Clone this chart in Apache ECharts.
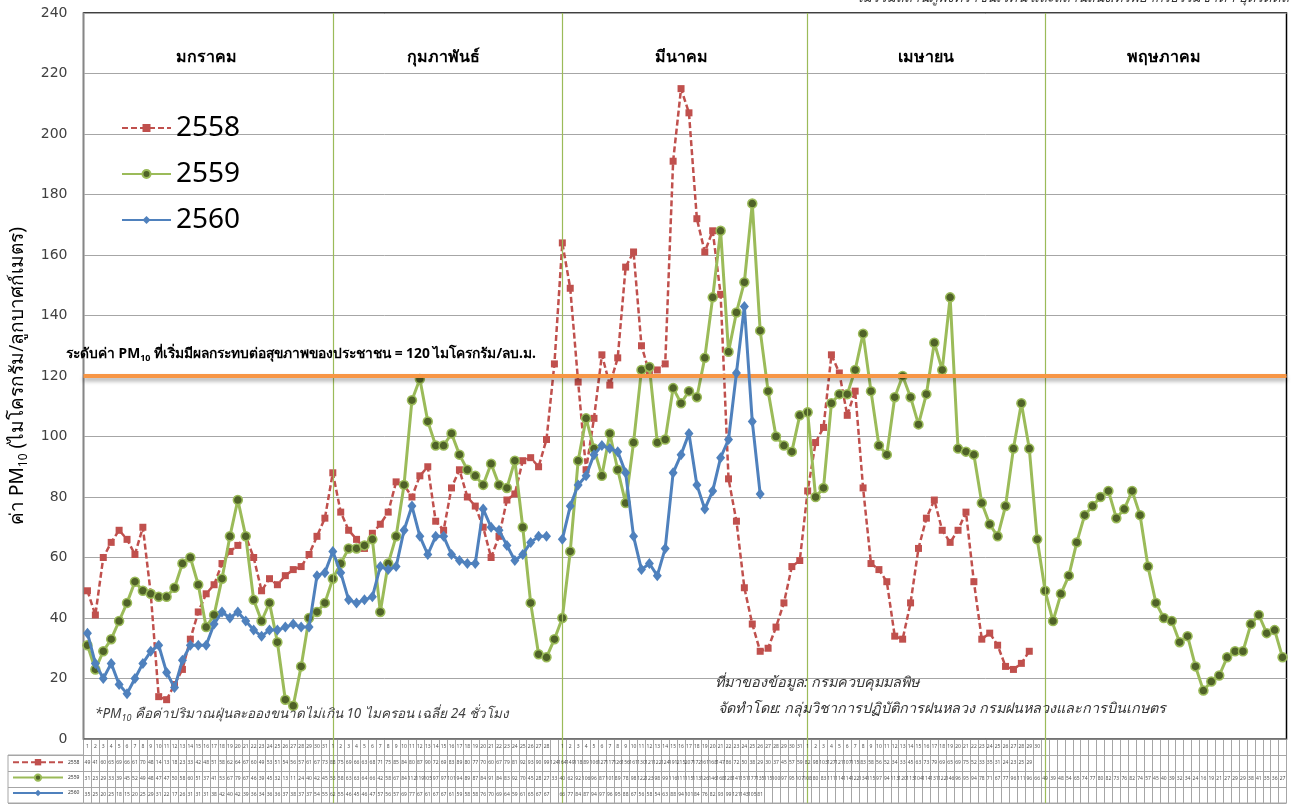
<!DOCTYPE html>
<html><head><meta charset="utf-8">
<script src="https://cdn.jsdelivr.net/npm/echarts@6/dist/echarts.min.js"></script>
<style>html,body{margin:0;padding:0;background:#fff;}#c{width:1293px;height:805px;}</style>
</head><body><div id="c"></div>
<script>
// ---------- data ----------
const dayLabels = [
 '1','2','3','4','5','6','7','8','9','10','11','12','13','14','15','16','17','18','19','20','21','22','23','24','25','26','27','28','29','30','31',
 '1','2','3','4','5','6','7','8','9','10','11','12','13','14','15','16','17','18','19','20','21','22','23','24','25','26','27','28','',
 '1','2','3','4','5','6','7','8','9','10','11','12','13','14','15','16','17','18','19','20','21','22','23','24','25','26','27','28','29','30','31',
 '1','2','3','4','5','6','7','8','9','10','11','12','13','14','15','16','17','18','19','20','21','22','23','24','25','26','27','28','29','30',
 '','','','','','','','','','','','','','','','','','','','','','','','','','','','','','',''
];
const monthNames = ['มกราคม','กุมภาพันธ์','มีนาคม','เมษายน','พฤษภาคม'];
const monthStart = [0,31,60,91,121,152];
const seriesNames = ['2558','2559','2560'];
const s2558 = [49,41,60,65,69,66,61,70,48,14,13,18,23,33,42,48,51,58,62,64,67,60,49,53,51,54,56,57,61,67,73,
 88,75,69,66,63,68,71,75,85,84,80,87,90,72,69,83,89,80,77,70,60,67,79,81,92,93,90,99,124,
 164,149,118,89,106,127,117,126,156,161,130,121,122,124,191,215,207,172,161,168,147,86,72,50,38,29,30,37,45,57,59,
 82,98,103,127,121,107,115,83,58,56,52,34,33,45,63,73,79,69,65,69,75,52,33,35,31,24,23,25,29];
const s2559 = [31,23,29,33,39,45,52,49,48,47,47,50,58,60,51,37,41,53,67,79,67,46,39,45,32,13,11,24,40,42,45,
 53,58,63,63,64,66,42,58,67,84,112,119,105,97,97,101,94,89,87,84,91,84,83,92,70,45,28,27,33,
 40,62,92,106,96,87,101,89,78,98,122,123,98,99,116,111,115,113,126,146,168,128,141,151,177,135,115,100,97,95,107,
 108,80,83,111,114,114,122,134,115,97,94,113,120,113,104,114,131,122,146,96,95,94,78,71,67,77,96,111,96,66,
 49,39,48,54,65,74,77,80,82,73,76,82,74,57,45,40,39,32,34,24,16,19,21,27,29,29,38,41,35,36,27];
const s2560 = [35,25,20,25,18,15,20,25,29,31,22,17,26,31,31,31,38,42,40,42,39,36,34,36,36,37,38,37,37,54,55,
 62,55,46,45,46,47,57,56,57,69,77,67,61,67,67,61,59,58,58,76,70,69,64,59,61,65,67,67,null,
 66,77,84,87,94,97,96,95,88,67,56,58,54,63,88,94,101,84,76,82,93,99,121,143,105,81];

// ---------- derived ----------
const N = dayLabels.length;
const idx = dayLabels.map((d,i)=>i);
const pad = a => idx.map(i => (a[i] === undefined ? null : a[i]));
const d2558 = pad(s2558), d2559 = pad(s2559), d2560 = pad(s2560);
const topCats = idx.map(()=> '');
for (let m=0;m<monthNames.length;m++) topCats[Math.floor((monthStart[m]+monthStart[m+1])/2)] = monthNames[m];
const tableCells = [];
idx.forEach(i=>{
  if (dayLabels[i] !== '') tableCells.push([i,0,dayLabels[i]]);
  [d2558,d2559,d2560].forEach((a,r)=>{ if (a[i]!==null) tableCells.push([i,r+1,String(a[i])]); });
});

const FF = "'Noto Sans','DejaVu Sans',sans-serif";
const RED='#C0504D', GREEN='#9BBB59', GREEN_D='#4F6228', BLUE='#4F81BD';
const tblLine = {color:'#a6a6a6', width:1};

const chart = echarts.init(document.getElementById('c'), null, {renderer:'canvas'});
chart.setOption({
  animation:false,
  backgroundColor:'#fff',
  textStyle:{fontFamily:FF},
  grid:[
    {left:83.5, right:6.5, top:13, height:726, show:true, borderColor:'#000', borderWidth:1.5, outerBoundsMode:'none', containLabel:false},
    {left:83.5, right:6.5, top:13, height:790, show:false, outerBoundsMode:'none', containLabel:false},
    {left:83.5, right:6.5, top:739, height:64, show:true, borderColor:'#a6a6a6', borderWidth:1, outerBoundsMode:'none', containLabel:false},
    {left:8, width:75.5, top:755, height:48, show:true, borderColor:'#a6a6a6', borderWidth:1, outerBoundsMode:'none', containLabel:false}
  ],
  xAxis:[
    {gridIndex:0, type:'category', data:idx, boundaryGap:true, axisLine:{show:true, lineStyle:{color:'#868686'}},
     axisTick:{show:false}, axisLabel:{show:false}, splitLine:{show:false}},
    {gridIndex:1, type:'category', data:topCats, boundaryGap:true, position:'top',
     axisLine:{show:false}, axisTick:{show:false}, splitLine:{show:false},
     axisLabel:{interval:0, inside:true, margin:44, fontSize:16, fontWeight:'bold', color:'#000', fontFamily:FF, verticalAlign:'middle'}},
    {gridIndex:2, type:'category', data:idx, boundaryGap:true, axisLine:{show:false}, axisTick:{show:false},
     axisLabel:{show:false}, splitLine:{show:true, interval:0, lineStyle:tblLine}},
    {gridIndex:3, type:'value', show:false}
  ],
  yAxis:[
    {gridIndex:0, type:'value', min:0, max:240, interval:20,
     axisLine:{show:true, lineStyle:{color:'#868686'}}, axisTick:{show:false},
     axisLabel:{fontSize:14, color:'#404040', margin:16, fontFamily:"'DejaVu Sans',sans-serif"},
     splitLine:{show:true, lineStyle:{color:'#a6a6a6', width:1}},
     name:'{a|ค่า PM}{s|10}{a| (ไมโครกรัม/ลูกบาศก์เมตร)}', nameLocation:'middle', nameRotate:90, nameGap:54,
     nameTextStyle:{rich:{a:{fontSize:19, color:'#000', fontFamily:FF}, s:{fontSize:12, color:'#000', fontFamily:FF, verticalAlign:'bottom', padding:[12,0,0,0]}}}},
    {gridIndex:1, type:'value', min:0, max:1, show:false},
    {gridIndex:2, type:'category', data:['d','2558','2559','2560'], inverse:true,
     axisLine:{show:false}, axisTick:{show:false}, axisLabel:{show:false}, splitLine:{show:true, interval:0, lineStyle:tblLine}},
    {gridIndex:3, type:'category', data:seriesNames, inverse:true,
     axisLine:{show:false}, axisTick:{show:false}, axisLabel:{show:false}, splitLine:{show:true, interval:0, lineStyle:tblLine}}
  ],
  legend:[
    {data:seriesNames, orient:'vertical', left:121, top:113, itemWidth:49, itemHeight:10, itemGap:16, padding:0,
     textStyle:{fontSize:28, color:'#000', fontFamily:FF, lineHeight:30}, selectedMode:false},
    {data:seriesNames, orient:'vertical', left:12, top:759, itemWidth:50, itemHeight:8, itemGap:8, padding:0, height:44,
     textStyle:{fontSize:5, color:'#333', fontFamily:FF}, selectedMode:false}
  ],
  series:[
    {type:'line', xAxisIndex:1, yAxisIndex:1, data:idx.map(()=>null), z:1, silent:true, symbol:'none',
     markLine:{silent:true, symbol:['none','none'], label:{show:false},
       lineStyle:{color:GREEN, width:1.2, type:'solid'},
       data:monthStart.slice(1,monthStart.length-1).map(k=>({xAxis:k}))}},
    {type:'line', xAxisIndex:0, yAxisIndex:0, data:idx.map(()=>null), z:1, silent:true, symbol:'none',
     markLine:{silent:true, symbol:['none','none'], label:{show:false},
       lineStyle:{color:'#F79646', width:4, type:'solid', shadowColor:'rgba(0,0,0,0.35)', shadowBlur:4, shadowOffsetY:3},
       data:[{yAxis:120}]}},
    {name:'2558', type:'line', xAxisIndex:0, yAxisIndex:0, data:d2558, z:3,
     symbol:'rect', symbolSize:7, showAllSymbol:true,
     lineStyle:{color:RED, width:2.5, type:[6,3]}, itemStyle:{color:RED}},
    {name:'2559', type:'line', xAxisIndex:0, yAxisIndex:0, data:d2559, z:4,
     symbol:'circle', symbolSize:9, showAllSymbol:true,
     lineStyle:{color:GREEN, width:3}, itemStyle:{color:GREEN_D, borderColor:GREEN, borderWidth:1.5}},
    {name:'2560', type:'line', xAxisIndex:0, yAxisIndex:0, data:d2560, z:5,
     symbol:'diamond', symbolSize:[9,11], showAllSymbol:true,
     lineStyle:{color:BLUE, width:3}, itemStyle:{color:BLUE}},
    {type:'scatter', xAxisIndex:2, yAxisIndex:2, data:tableCells, symbolSize:0, silent:true, z:6,
     label:{show:true, position:'inside', fontSize:5, color:'#222', fontFamily:FF, formatter:p=>p.data[2]}}
  ],
  graphic:[
    {type:'text', left:66, top:347, z:10, style:{text:'{a|ระดับค่า PM}{s|10}{a| ที่เริ่มมีผลกระทบต่อสุขภาพของประชาชน = 120 ไมโครกรัม/ลบ.ม.}',
      rich:{a:{fontSize:13.8, fontWeight:'bold', fill:'#000', fontFamily:FF}, s:{fontSize:9, fontWeight:'bold', fill:'#000', fontFamily:FF, padding:[8,0,0,0]}}}},
    {type:'text', left:95, top:707, z:10, style:{text:'{a|*PM}{s|10}{a| คือค่าปริมาณฝุ่นละอองขนาดไม่เกิน 10 ไมครอน เฉลี่ย 24 ชั่วโมง}',
      rich:{a:{fontSize:13.5, fontStyle:'italic', fill:'#404040', fontFamily:FF}, s:{fontSize:9, fontStyle:'italic', fill:'#404040', fontFamily:FF, padding:[8,0,0,0]}}}},
    {type:'text', left:715, top:676, z:10, style:{text:'ที่มาของข้อมูล: กรมควบคุมมลพิษ', fontSize:14.4, fontStyle:'italic', fill:'#333', fontFamily:FF}},
    {type:'text', left:718, top:702, z:10, style:{text:'จัดทำโดย: กลุ่มวิชาการปฏิบัติการฝนหลวง กรมฝนหลวงและการบินเกษตร', fontSize:14.4, fontStyle:'italic', fill:'#333', fontFamily:FF}},
    {type:'text', right:4, top:-9, z:10, style:{text:'*ไม่รวมสถานีภูพิงคราชนิเวศน์ และสถานีสนง.ทรัพยากรธรรมชาติฯ อุตรดิตถ์', fontSize:13.5, fontStyle:'italic', fill:'#333', fontFamily:FF}}
  ]
});
</script></body></html>
